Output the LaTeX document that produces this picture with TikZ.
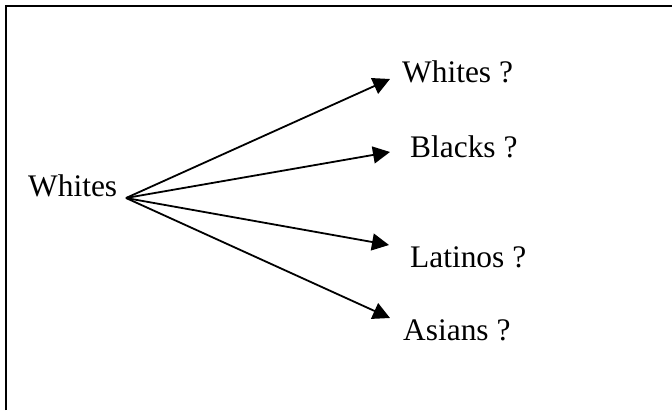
\documentclass[tikz,border=0pt]{standalone}
\usepackage{fontspec}
\setmainfont{Liberation Serif}
\usetikzlibrary{arrows.meta}
\tikzset{
	label/.style={black, anchor=base west, inner sep=0pt, font=\fontsize{31.4}{36}\selectfont},
	link/.style={draw=black, line width=1.8pt, -{Triangle[length=17pt,width=17pt]}},
}
\begin{document}
\begin{tikzpicture}[x=1pt, y=-1pt]
	\useasboundingbox (0,0) rectangle (672,410);
	\draw[draw=black, line width=2.4pt] (6.2,410) -- (6.2,6.2) -- (672,6.2);
	\node[label] (src) at (28,196) {Whites};
	\coordinate (hub) at (126,198);
	\coordinate (t1) at (390,79);
	\coordinate (t2) at (390,152);
	\coordinate (t3) at (389,245);
	\coordinate (t4) at (390,318);
	\draw[link] (hub) -- (t1);
	\draw[link] (hub) -- (t2);
	\draw[link] (hub) -- (t3);
	\draw[link] (hub) -- (t4);
	\node[label] (dst1) at (402,82) {Whites ?};
	\node[label] (dst2) at (410,157) {Blacks ?};
	\node[label] (dst3) at (410,267) {Latinos ?};
	\node[label] (dst4) at (403,340) {Asians ?};
\end{tikzpicture}
\end{document}
